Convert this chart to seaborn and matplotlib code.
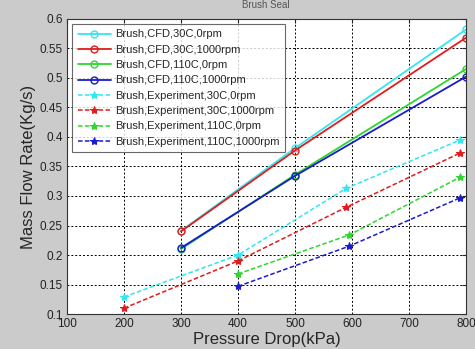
import seaborn as sns
import pandas as pd
import matplotlib
matplotlib.use("Agg")
import matplotlib.pyplot as plt

# CFD runs (pressure drop in kPa, mass flow in kg/s)
cfd_dp = [300, 500, 800]
cfd_30c_0rpm = [0.241, 0.381, 0.582]
cfd_30c_1000rpm = [0.240, 0.377, 0.568]
cfd_110c_0rpm = [0.210, 0.336, 0.515]
cfd_110c_1000rpm = [0.212, 0.334, 0.502]

# experiment runs
exp_dp_30c = [200, 400, 590, 790]
exp_30c_0rpm = [0.129, 0.200, 0.313, 0.395]
exp_30c_1000rpm = [0.110, 0.190, 0.281, 0.373]
exp_dp_110c = [400, 595, 790]
exp_110c_0rpm = [0.168, 0.234, 0.332]
exp_110c_1000rpm = [0.147, 0.215, 0.297]

labels = [
    "Brush,CFD,30C,0rpm",
    "Brush,CFD,30C,1000rpm",
    "Brush,CFD,110C,0rpm",
    "Brush,CFD,110C,1000rpm",
    "Brush,Experiment,30C,0rpm",
    "Brush,Experiment,30C,1000rpm",
    "Brush,Experiment,110C,0rpm",
    "Brush,Experiment,110C,1000rpm",
]

series = [
    (cfd_dp, cfd_30c_0rpm),
    (cfd_dp, cfd_30c_1000rpm),
    (cfd_dp, cfd_110c_0rpm),
    (cfd_dp, cfd_110c_1000rpm),
    (exp_dp_30c, exp_30c_0rpm),
    (exp_dp_30c, exp_30c_1000rpm),
    (exp_dp_110c, exp_110c_0rpm),
    (exp_dp_110c, exp_110c_1000rpm),
]
colors = ["#33e6f0", "#e01c1c", "#2ed62e", "#1a1ad0"] * 2

sns.set_style("white")
plt.rcParams["font.family"] = ["Liberation Sans", "DejaVu Sans"]

fig = plt.figure(figsize=(4.75, 3.49), dpi=100, facecolor="#cbcbcb")
ax = fig.add_axes([0.141, 0.100, 0.840, 0.846])
ax.set_facecolor("white")

for i, ((x, y), lab) in enumerate(zip(series, labels)):
    df = pd.DataFrame({"dp": x, "m": y})
    if i < 4:
        sns.lineplot(data=df, x="dp", y="m", ax=ax, color=colors[i],
                     linestyle="-", marker="o", markersize=5,
                     markerfacecolor="none", markeredgecolor=colors[i],
                     markeredgewidth=1.0, lw=1.3, label=lab)
    else:
        sns.lineplot(data=df, x="dp", y="m", ax=ax, color=colors[i],
                     linestyle=(0, (3, 1.5)), marker="*", markersize=6,
                     markeredgecolor=colors[i], lw=1.1, label=lab)

ax.set_xlim(100, 800)
ax.set_ylim(0.1, 0.6)
ax.set_xticks(range(100, 801, 100))
ax.set_yticks([0.1, 0.15, 0.2, 0.25, 0.3, 0.35, 0.4, 0.45, 0.5, 0.55, 0.6])
ax.set_yticklabels(["0.1", "0.15", "0.2", "0.25", "0.3", "0.35", "0.4",
                    "0.45", "0.5", "0.55", "0.6"])
ax.tick_params(direction="in", labelsize=8.5, length=3, top=True, right=True,
               colors="#222222", pad=3)
ax.grid(True, color="black", linestyle=(0, (2, 2)), lw=0.7)
for s in ax.spines.values():
    s.set_color("#333333")
    s.set_linewidth(0.8)

ax.set_xlabel("Pressure Drop(kPa)", fontsize=12, labelpad=1)
ax.set_ylabel("Mass Flow Rate(Kg/s)", fontsize=12, labelpad=3)

leg = ax.legend(loc="upper left", fontsize=8, frameon=True, fancybox=False,
                borderaxespad=0.45, handlelength=3.0, labelspacing=0.48,
                borderpad=0.5, handletextpad=0.4)
leg.get_frame().set_edgecolor("#444444")
leg.get_frame().set_linewidth(0.8)

fig.text(0.56, 0.999, "Brush Seal", fontsize=7, ha="center", va="top",
         color="#555555")

fig.savefig("out.png", dpi=100, facecolor=fig.get_facecolor())
